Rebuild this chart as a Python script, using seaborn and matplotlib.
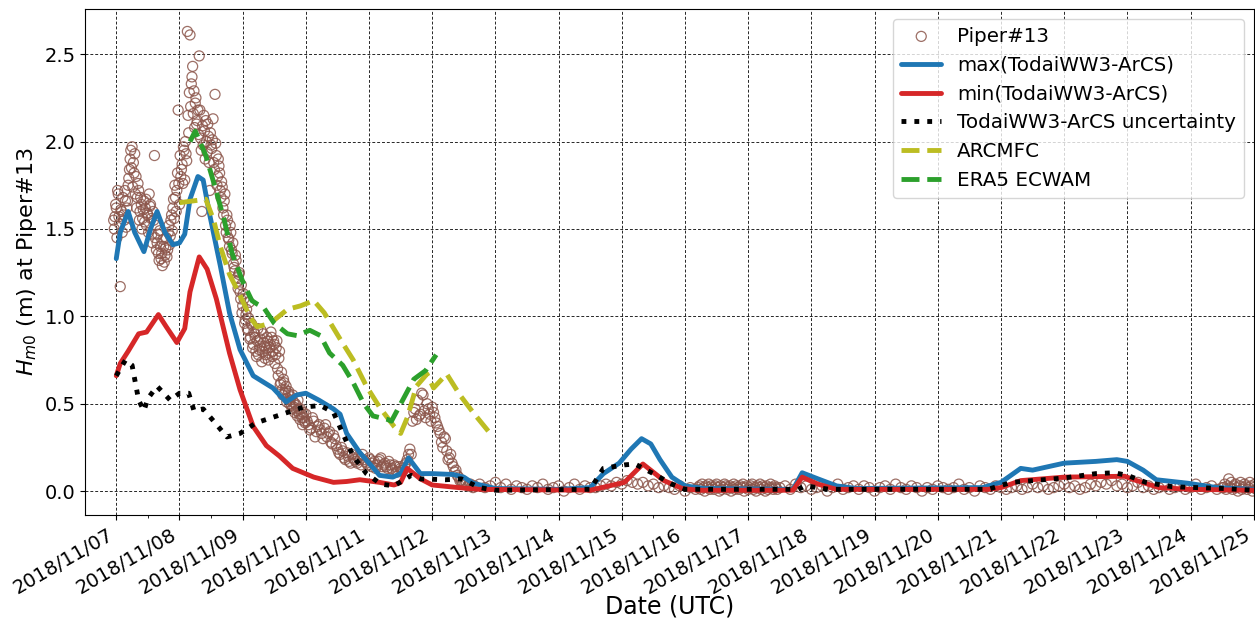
import numpy as np
import pandas as pd
import matplotlib
matplotlib.use("Agg")
import matplotlib.pyplot as plt
import matplotlib.dates as mdates
import seaborn as sns

T0 = pd.Timestamp("2018-11-07 00:00")

# Piper#13 observations, hours since 2018/11/07 00UTC, in blocks of fixed sampling
piper_a = [  # every 30 min from -1 h
    1.55, 1.57, 1.62, 1.72, 1.57, 1.17, 1.60, 1.68, 1.55, 1.66,
    1.62, 1.75, 1.84, 1.95, 1.97, 1.88, 1.93, 1.80, 1.68, 1.72,
    1.60, 1.64, 1.56, 1.66, 1.62, 1.52, 1.58, 1.70, 1.64, 1.47,
    1.60, 1.92, 1.52, 1.42, 1.36, 1.49, 1.33, 1.29, 1.40, 1.35,
    1.45, 1.38, 1.52, 1.46, 1.58, 1.62, 1.56, 1.68, 1.72, 2.18,
    1.64,
    1.80, 1.87, 1.97, 1.78, 1.93, 2.63, 2.05, 2.61, 2.33, 2.43,
    2.29, 2.22, 2.10, 2.18, 2.49, 2.02, 1.60, 1.98, 2.06, 2.12,
    1.94, 2.03, 1.72, 1.98, 2.01, 1.88, 2.27, 1.92, 1.80, 1.86,
    1.72, 1.77, 1.62, 1.66, 1.52, 1.58, 1.45, 1.40, 1.48, 1.36,
    1.30, 1.26, 1.32, 1.20, 1.24, 1.14, 1.18,
    1.06, 1.10, 0.98, 1.04, 0.92, 1.08, 0.88, 0.95, 0.84, 0.90,
    0.80, 0.86, 0.78, 0.83, 0.92, 0.80, 0.85, 0.76, 0.82, 0.86,
    0.79, 0.84, 0.88, 0.80, 0.84, 0.78, 0.86, 0.66, 0.80, 0.62,
    0.58, 0.64, 0.56, 0.60, 0.53, 0.57, 0.52, 0.49, 0.55, 0.48,
    0.50, 0.46, 0.52, 0.44, 0.47, 0.42, 0.45, 0.40,
]
piper_a2 = [  # every 30 min from -0.75 h (readings in between)
    1.50, 1.64, 1.45, 1.70, 1.53, 1.61, 1.48, 1.58, 1.72, 1.51,
    1.66, 1.79, 1.90, 1.85, 1.74, 1.82, 1.70, 1.62, 1.76, 1.55,
    1.68, 1.50, 1.61, 1.54, 1.67, 1.59, 1.48, 1.63, 1.56, 1.42,
    1.55, 1.45, 1.38, 1.47, 1.32, 1.40, 1.36, 1.44, 1.31, 1.39,
    1.34, 1.48, 1.41, 1.55, 1.49, 1.67, 1.75, 1.60, 1.82, 1.76,
    1.92, 1.84, 1.76, 1.95, 2.00, 1.89, 2.15, 2.28, 2.20, 2.37,
    2.16, 2.08, 2.25, 2.12, 2.04, 2.18, 1.95, 2.09, 2.15, 1.90,
    2.00, 2.10, 1.88, 2.05, 1.96, 2.13, 1.84, 1.99, 1.75, 1.90,
    1.82, 1.68, 1.74, 1.58, 1.70, 1.48, 1.55, 1.44, 1.52, 1.38,
    1.42, 1.28, 1.35, 1.22, 1.16, 1.25, 1.10, 1.02, 1.13, 0.96,
    1.01, 0.93, 0.99, 0.87, 0.96, 0.82, 0.91, 0.88, 0.77, 0.93,
    0.81, 0.87, 0.74, 0.90, 0.83, 0.78, 0.88, 0.75, 0.82, 0.91,
    0.77, 0.86, 0.73, 0.82, 0.70, 0.76, 0.61, 0.68, 0.55, 0.62,
    0.58, 0.51, 0.56, 0.50, 0.54, 0.47, 0.51, 0.45, 0.49, 0.43,
    0.47, 0.41, 0.44, 0.38, 0.42, 0.39,
]
piper_b = [  # hourly from 72 h
    0.44, 0.38, 0.36, 0.40, 0.34, 0.38, 0.33, 0.36, 0.31, 0.34,
    0.27, 0.30, 0.24, 0.21, 0.23, 0.18, 0.20, 0.16, 0.19, 0.17,
    0.20, 0.15, 0.18, 0.16, 0.19, 0.14, 0.17, 0.15, 0.18, 0.14,
    0.16, 0.13, 0.15, 0.12, 0.14, 0.11, 0.13, 0.12, 0.16, 0.21,
    0.21, 0.45, 0.41, 0.43, 0.56, 0.46, 0.50, 0.44, 0.48, 0.42,
    0.37, 0.33, 0.25, 0.30, 0.18, 0.21, 0.14, 0.12, 0.08, 0.06,
    0.05, 0.04, 0.03, 0.03,
]
piper_b2 = [  # hourly from 72.5 h
    0.40, 0.35, 0.42, 0.31, 0.37, 0.35, 0.30, 0.38, 0.33, 0.28,
    0.32, 0.26, 0.22, 0.25, 0.19, 0.22, 0.17, 0.21, 0.18, 0.16,
    0.18, 0.21, 0.17, 0.15, 0.18, 0.16, 0.13, 0.17, 0.19, 0.15,
    0.14, 0.17, 0.13, 0.15, 0.11, 0.14, 0.12, 0.15, 0.18, 0.24,
    0.40, 0.47, 0.52, 0.44, 0.55, 0.42, 0.47, 0.40, 0.45, 0.39,
    0.35, 0.28, 0.31, 0.23, 0.19, 0.16, 0.11, 0.09, 0.06, 0.05,
    0.04, 0.03, 0.04, 0.02,
]
piper_c = [  # every 2 h from 136 h
    0.03, 0.04, 0.02, 0.03, 0.05, 0.02, 0.04, 0.01, 0.03, 0.02,
    0.01, 0.03, 0.02, 0.04, 0.01, 0.02, 0.03, 0.00, 0.02, 0.04, 0.01, 0.03, 0.02,
    0.02, 0.03, 0.04, 0.03, 0.05, 0.04, 0.06, 0.05, 0.04, 0.05, 0.03, 0.04, 0.02, 0.03,
    0.02, 0.01, 0.03, 0.00, 0.02, 0.01,
]
piper_d = [  # every 30 min from 221 h
    0.02, 0.03, 0.01, 0.04, 0.02, 0.00, 0.03, 0.02, 0.04, 0.01,
    0.03, 0.02, 0.01, 0.03, 0.04, 0.02, 0.00, 0.03, 0.01, 0.02,
    0.04, 0.03, 0.01, 0.02, 0.03, 0.00, 0.02, 0.04, 0.01, 0.03,
    0.02, 0.01, 0.03, 0.02, 0.04, 0.00, 0.02, 0.03, 0.01, 0.02,
    0.03, 0.04, 0.01, 0.02, 0.00, 0.03, 0.02, 0.04, 0.01, 0.03,
    0.02, 0.00, 0.03, 0.01, 0.02, 0.04, 0.02, 0.01, 0.03, 0.02,
    0.01,
]
piper_e = [  # every 2 h from 252 h
    0.02, 0.03, 0.01, 0.04, 0.02, 0.03, 0.01, 0.02, 0.03, 0.00, 0.02, 0.04, 0.01, 0.02, 0.03,
    0.01, 0.03, 0.02, 0.00, 0.02, 0.03, 0.01, 0.04, 0.02, 0.01, 0.03, 0.02, 0.00, 0.02, 0.01,
    0.03, 0.02, 0.01, 0.02, 0.04, 0.01, 0.02, 0.00, 0.03, 0.02, 0.01, 0.03, 0.02, 0.01, 0.02,
    0.03, 0.01, 0.02, 0.04, 0.02, 0.03, 0.01, 0.02, 0.03, 0.04, 0.02, 0.03, 0.01, 0.02, 0.04,
    0.03, 0.05, 0.04, 0.06, 0.03, 0.04, 0.02, 0.03, 0.05, 0.02, 0.03, 0.01, 0.02, 0.03, 0.01,
    0.02, 0.03, 0.01, 0.02, 0.04, 0.01, 0.02, 0.03, 0.01, 0.02,
]
piper_f = [  # every 30 min from 420.5 h
    0.02, 0.04, 0.01, 0.03, 0.07, 0.02, 0.05, 0.01, 0.03, 0.04,
    0.02, 0.00, 0.03, 0.05, 0.01, 0.02, 0.04, 0.03, 0.01, 0.02,
    0.05, 0.03, 0.00, 0.02, 0.04, 0.01,
]
piper_hours = np.concatenate([
    np.arange(-1, 72, 0.5), np.arange(-0.75, 72, 0.5),
    np.arange(72, 136, 1), np.arange(72.5, 136, 1), np.arange(136, 221, 2),
    np.arange(221, 251.5, 0.5), np.arange(252, 421, 2), np.arange(420.5, 433.5, 0.5),
])
piper_hm0 = piper_a + piper_a2 + piper_b + piper_b2 + piper_c + piper_d + piper_e + piper_f

# TodaiWW3-ArCS ensemble envelope and uncertainty
max_hours = [0, 1.5, 4.5, 7, 10.5, 13, 15.5, 18.5, 21.5, 24, 26, 28, 31, 33, 35.5, 39.5,
             43, 47, 52, 59.5, 64.5, 68.5, 72, 77, 82.5, 85, 87.5, 92.5, 96, 100, 105,
             108, 111, 115.5, 120, 128, 132, 135.5, 144, 168, 180, 185, 191, 195.5, 199.5,
             203, 206.5, 211, 216, 223, 257, 260.5, 266.5, 273.5, 281, 329, 336, 343.5,
             348, 360, 372, 380, 384, 390, 395, 407, 418, 432]
max_hm0 = [1.33, 1.48, 1.60, 1.48, 1.37, 1.50, 1.60, 1.48, 1.41, 1.42, 1.47, 1.67, 1.80,
           1.78, 1.58, 1.29, 1.02, 0.81, 0.66, 0.59, 0.51, 0.55, 0.56, 0.52, 0.47, 0.44,
           0.33, 0.22, 0.16, 0.09, 0.08, 0.10, 0.19, 0.10, 0.10, 0.095, 0.08, 0.045,
           0.015, 0.01, 0.02, 0.10, 0.16, 0.24, 0.30, 0.27, 0.18, 0.08, 0.03, 0.015,
           0.01, 0.105, 0.07, 0.03, 0.015, 0.02, 0.05, 0.13, 0.12, 0.16, 0.17, 0.18,
           0.17, 0.12, 0.065, 0.045, 0.02, 0.01]

min_hours = [0, 1.5, 4.5, 8.5, 11.5, 16, 19, 23, 26, 28, 31.5, 34.5, 38, 43, 47, 52, 57,
             62, 67, 75, 82.5, 87.5, 92.5, 100, 105.5, 108, 110.5, 115.5, 120, 130, 138,
             180, 193, 200, 208, 215, 221, 257, 260.5, 266.5, 273.5, 331, 336, 343.5,
             360, 383, 386.5, 396, 408, 432]
min_hm0 = [0.66, 0.73, 0.80, 0.90, 0.91, 1.01, 0.94, 0.85, 0.93, 1.14, 1.34, 1.27, 1.10,
           0.79, 0.58, 0.37, 0.26, 0.20, 0.13, 0.08, 0.05, 0.055, 0.065, 0.05, 0.035,
           0.05, 0.13, 0.07, 0.035, 0.02, 0.01, 0.005, 0.05, 0.155, 0.06, 0.015, 0.005,
           0.005, 0.08, 0.04, 0.01, 0.01, 0.02, 0.06, 0.08, 0.085, 0.065, 0.02, 0.01,
           0.005]

unc_hours = [0, 3.5, 6, 8.5, 10.5, 12, 15.5, 20.5, 24, 27.5, 29.5, 33, 37, 42, 47, 53, 61,
             67, 71, 77.5, 82.5, 86, 90, 95, 100.5, 105.5, 112, 115.5, 125, 131, 134.5,
             138, 144, 180, 185, 193, 197, 204, 211, 216, 259, 261.5, 271, 331, 340, 348,
             360, 372, 379, 384, 391, 401, 420, 432]
unc_hm0 = [0.66, 0.75, 0.72, 0.52, 0.46, 0.53, 0.60, 0.52, 0.56, 0.56, 0.46, 0.47, 0.40,
           0.31, 0.33, 0.39, 0.43, 0.46, 0.48, 0.49, 0.45, 0.33, 0.20, 0.10, 0.04, 0.03,
           0.09, 0.07, 0.065, 0.07, 0.045, 0.02, 0.005, 0.01, 0.13, 0.15, 0.155, 0.10,
           0.04, 0.01, 0.01, 0.03, 0.01, 0.01, 0.05, 0.06, 0.075, 0.10, 0.105, 0.09,
           0.05, 0.025, 0.015, 0.005]

# other models
arc_hours = [24, 34, 37, 39.5, 43, 47, 51, 53.5, 58.5, 65, 70, 75, 79, 85, 90, 95, 100,
             105.5, 108, 110.5, 114, 118, 120.5, 125.5, 130.5, 135.5, 142]
arc_hm0 = [1.65, 1.67, 1.55, 1.40, 1.24, 1.12, 0.99, 0.94, 0.96, 1.04, 1.06, 1.09, 1.02,
           0.87, 0.75, 0.60, 0.48, 0.37, 0.33, 0.42, 0.60, 0.67, 0.59, 0.67, 0.55, 0.45,
           0.33]

era_hours = [28, 30, 34, 37.5, 41, 44, 48, 51.5, 53.5, 56, 60, 65, 68.5, 73.5, 77.5, 81,
             86, 90, 94, 97.5, 103, 104.5, 113, 117.5, 121.5]
era_hm0 = [2.00, 2.06, 1.92, 1.74, 1.55, 1.36, 1.20, 1.09, 1.07, 1.05, 0.96, 0.90, 0.89,
           0.92, 0.89, 0.79, 0.72, 0.62, 0.50, 0.43, 0.41, 0.40, 0.64, 0.69, 0.78]


def to_time(hours):
    return T0 + pd.to_timedelta(np.asarray(hours, dtype=float), unit="h")


sns.set_style("ticks")
plt.rcParams["font.family"] = ["DejaVu Sans"]
for key in ["text.color", "axes.labelcolor", "xtick.color", "ytick.color", "axes.edgecolor"]:
    plt.rcParams[key] = "black"

fig, ax = plt.subplots(figsize=(12.55, 6.23), dpi=100)

sns.scatterplot(x=to_time(piper_hours), y=piper_hm0, ax=ax, marker="o", s=52,
                facecolors="none", edgecolor="#8c564b", linewidth=0.9, alpha=0.85,
                label="Piper#13", zorder=2)

series = [
    (max_hours, max_hm0, "#1f77b4", "-", "max(TodaiWW3-ArCS)"),
    (min_hours, min_hm0, "#d62728", "-", "min(TodaiWW3-ArCS)"),
    (unc_hours, unc_hm0, "black", ":", "TodaiWW3-ArCS uncertainty"),
    (arc_hours, arc_hm0, "#bcbd22", "--", "ARCMFC"),
    (era_hours, era_hm0, "#2ca02c", "--", "ERA5 ECWAM"),
]
for hrs, vals, col, ls, lab in series:
    sns.lineplot(x=to_time(hrs), y=vals, ax=ax, color=col, linestyle=ls, linewidth=3.5,
                 errorbar=None, label=lab, zorder=3)

ax.set_xlim(pd.Timestamp("2018-11-06 12:15"), pd.Timestamp("2018-11-25 00:00"))
ax.set_ylim(-0.138, 2.76)
ax.set_yticks([0.0, 0.5, 1.0, 1.5, 2.0, 2.5])
ax.xaxis.set_major_locator(mdates.DayLocator())
ax.xaxis.set_minor_locator(mdates.HourLocator(byhour=[12]))
ax.xaxis.set_major_formatter(mdates.DateFormatter("%Y/%m/%d"))
ax.tick_params(axis="both", labelsize=14)
plt.setp(ax.get_xticklabels(), rotation=30, ha="right")

ax.grid(True, which="major", linestyle=(0, (3, 2)), color="0.15", linewidth=0.7)
ax.set_axisbelow(True)

ax.set_xlabel("Date (UTC)", fontsize=17, labelpad=-2)
ax.set_ylabel("$H_{m0}$ (m) at Piper#13", fontsize=16)

ax.legend(loc="upper right", fontsize=14.3)

fig.subplots_adjust(left=0.068, right=0.999, top=0.986, bottom=0.173)
fig.savefig("out.png", dpi=100)
